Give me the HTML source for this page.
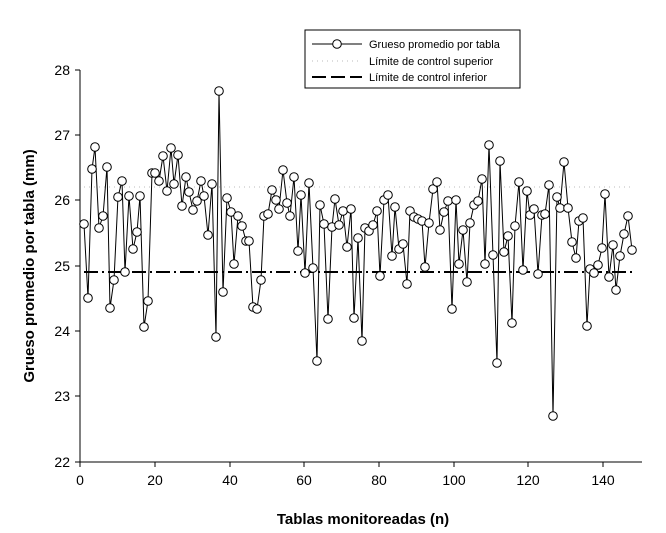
<!DOCTYPE html><html><head><style>body{margin:0;background:#fff}svg{display:block;font-family:"Liberation Sans",Arial,sans-serif}</style></head><body>
<svg width="666" height="533" viewBox="0 0 666 533" xmlns="http://www.w3.org/2000/svg">
<line x1="80" y1="70" x2="80" y2="462" stroke="#000" stroke-width="1"/>
<line x1="80" y1="462" x2="642" y2="462" stroke="#000" stroke-width="1"/>
<g stroke="#000"><line x1="75" y1="70" x2="80" y2="70"/><line x1="75" y1="135" x2="80" y2="135"/><line x1="75" y1="200" x2="80" y2="200"/><line x1="75" y1="266" x2="80" y2="266"/><line x1="75" y1="331" x2="80" y2="331"/><line x1="75" y1="396" x2="80" y2="396"/><line x1="75" y1="462" x2="80" y2="462"/>
<line x1="80" y1="462" x2="80" y2="467"/><line x1="155" y1="462" x2="155" y2="467"/><line x1="230" y1="462" x2="230" y2="467"/><line x1="304" y1="462" x2="304" y2="467"/><line x1="379" y1="462" x2="379" y2="467"/><line x1="454" y1="462" x2="454" y2="467"/><line x1="528" y1="462" x2="528" y2="467"/><line x1="603" y1="462" x2="603" y2="467"/></g>
<g font-size="14" text-anchor="end"><text x="70" y="75">28</text><text x="70" y="140">27</text><text x="70" y="205">26</text><text x="70" y="271">25</text><text x="70" y="336">24</text><text x="70" y="401">23</text><text x="70" y="467">22</text></g>
<g font-size="14" text-anchor="middle"><text x="80" y="485">0</text><text x="155" y="485">20</text><text x="230" y="485">40</text><text x="304" y="485">60</text><text x="379" y="485">80</text><text x="454" y="485">100</text><text x="528" y="485">120</text><text x="603" y="485">140</text></g>
<text x="363" y="524" font-size="15" font-weight="bold" text-anchor="middle">Tablas monitoreadas (n)</text>
<text transform="translate(34,266) rotate(-90)" font-size="15" font-weight="bold" text-anchor="middle">Grueso promedio por tabla (mm)</text>
<line x1="84" y1="187" x2="633" y2="187" stroke="#bbb" stroke-width="1" stroke-dasharray="1,4"/>
<line x1="84" y1="272" x2="633" y2="272" stroke="#000" stroke-width="2" stroke-dasharray="14,4,2,4"/>
<polyline fill="none" stroke="#000" stroke-width="1" points="84,224 88,298 92,169 95,147 99,228 103,216 107,167 110,308 114,280 118,197 122,181 125,272 129,196 133,249 137,232 140,196 144,327 148,301 152,173 155,173 159,181 163,156 167,191 171,148 174,184 178,155 182,206 186,177 189,192 193,210 197,201 201,181 204,196 208,235 212,184 216,337 219,91 223,292 227,198 231,212 234,264 238,216 242,226 246,241 249,241 253,307 257,309 261,280 264,216 268,214 272,190 276,200 279,209 283,170 287,203 290,216 294,177 298,251 301,195 305,273 309,183 313,268 317,361 320,205 324,224 328,319 332,227 335,199 339,225 343,211 347,247 351,209 354,318 358,238 362,341 365,228 369,231 373,225 377,211 380,276 384,200 388,195 392,256 395,207 399,249 403,244 407,284 410,211 414,217 418,219 422,221 425,267 429,223 433,189 437,182 440,230 444,212 448,201 452,309 456,200 459,264 463,230 467,282 470,223 474,205 478,201 482,179 485,264 489,145 493,255 497,363 500,161 504,252 508,236 512,323 515,226 519,182 523,270 527,191 530,215 534,209 538,274 542,215 545,214 549,185 553,416 557,197 560,208 564,162 568,208 572,242 576,258 579,221 583,218 587,326 590,269 594,273 598,265 602,248 605,194 609,277 613,245 616,290 620,256 624,234 628,216 632,250"/>
<g id="m" fill="#fff" stroke="#000" stroke-width="1"></g>
<script>
var p=document.querySelector('polyline').getAttribute('points').trim().split(/\s+/);var g=document.getElementById('m');
p.forEach(function(s){var a=s.split(',');var c=document.createElementNS('http://www.w3.org/2000/svg','circle');c.setAttribute('cx',a[0]);c.setAttribute('cy',a[1]);c.setAttribute('r','4.3');g.appendChild(c);});
</script>
<rect x="305" y="30" width="215" height="58" fill="#fff" stroke="#000"/>
<line x1="312" y1="44" x2="362" y2="44" stroke="#000"/><circle cx="337" cy="44" r="4.3" fill="#fff" stroke="#000"/>
<text x="369" y="48" font-size="11">Grueso promedio por tabla</text>
<line x1="312" y1="61" x2="362" y2="61" stroke="#bbb" stroke-dasharray="1,4"/>
<text x="369" y="65" font-size="11">Límite de control superior</text>
<line x1="312" y1="77" x2="362" y2="77" stroke="#000" stroke-width="2" stroke-dasharray="14,5"/>
<text x="369" y="81" font-size="11">Límite de control inferior</text>
</svg></body></html>
